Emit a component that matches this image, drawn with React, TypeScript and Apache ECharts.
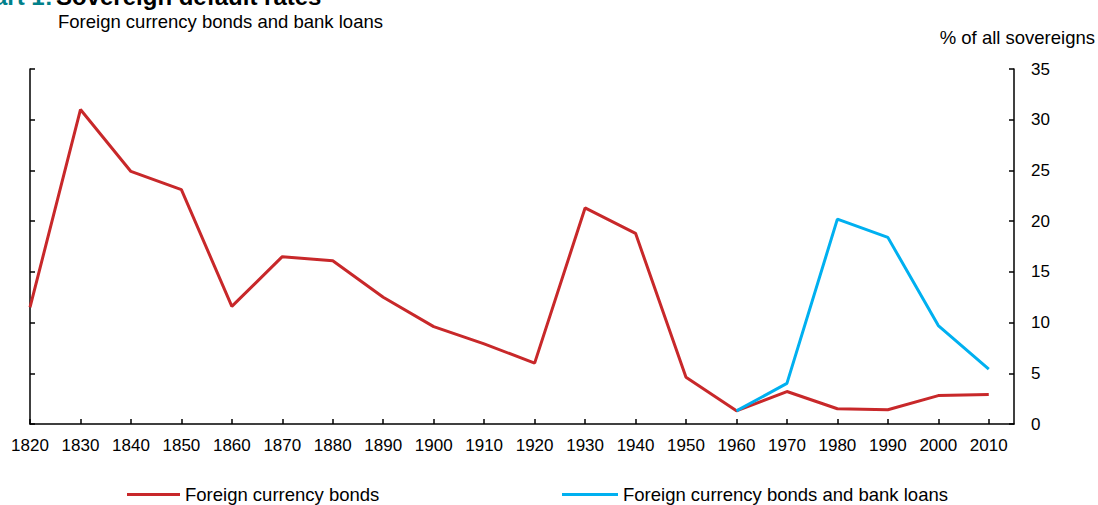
import React, { useEffect, useRef } from "react";
import * as echarts from "echarts";

const years = [1820, 1830, 1840, 1850, 1860, 1870, 1880, 1890, 1900, 1910, 1920, 1930, 1940, 1950, 1960, 1970, 1980, 1990, 2000, 2010];
const bondsValues = [11.5, 31.0, 24.9, 23.1, 11.6, 16.5, 16.1, 12.5, 9.6, 7.9, 6.0, 21.3, 18.8, 4.6, 1.3, 3.2, 1.5, 1.4, 2.8, 2.9];
const loanYears = [1960, 1970, 1980, 1990, 2000, 2010];
const loanValues = [1.3, 4.0, 20.2, 18.4, 9.7, 5.4];
const yTicks = [0, 5, 10, 15, 20, 25, 30, 35];

const RED = "#c8282a";
const BLUE = "#00b0f0";
const FONT = "Liberation Sans, Arial, sans-serif";

export default function App() {
  const ref = useRef<HTMLDivElement>(null);
  useEffect(() => {
    if (!ref.current) return;
    const chart = echarts.init(ref.current, null, { renderer: "svg" });
    const yMin = yTicks[0];
    const yMax = yTicks[yTicks.length - 1];
    const yInt = yTicks[1] - yTicks[0];
    chart.setOption({
      animation: false,
      textStyle: { fontFamily: FONT },
      grid: { left: 30, right: 84, top: 69, bottom: 81 },
      graphic: [
        {
          type: "text",
          left: -38,
          top: -16,
          style: {
            text: "{a|Chart 1:} {b|Sovereign default rates}",
            rich: {
              a: { fontSize: 24, fontWeight: "bold", fill: "#00808a", fontFamily: FONT },
              b: { fontSize: 24, fontWeight: "bold", fill: "#000", fontFamily: FONT },
            },
          },
        },
        {
          type: "text",
          left: 58,
          top: 12,
          style: { text: "Foreign currency bonds and bank loans", fontSize: 18.5, fill: "#000", fontFamily: FONT },
        },
        {
          type: "text",
          right: 3,
          top: 28,
          style: { text: "% of all sovereigns", fontSize: 18.5, fill: "#000", fontFamily: FONT },
        },
      ],
      legend: [
        {
          left: 127,
          top: 485,
          padding: 0,
          data: ["Foreign currency bonds"],
          icon: "rect",
          itemWidth: 53,
          itemHeight: 3,
          textStyle: { fontSize: 18.5, color: "#000", fontFamily: FONT },
        },
        {
          left: 562,
          top: 485,
          padding: 0,
          data: ["Foreign currency bonds and bank loans"],
          icon: "rect",
          itemWidth: 56,
          itemHeight: 3,
          textStyle: { fontSize: 18.5, color: "#000", fontFamily: FONT },
        },
      ],
      xAxis: {
        type: "value",
        min: years[0],
        max: 2015,
        interval: 10,
        splitLine: { show: false },
        axisLine: { show: true, lineStyle: { color: "#000", width: 1.5 } },
        axisTick: { show: true, inside: true, length: 5, lineStyle: { color: "#000", width: 1.5 } },
        axisLabel: {
          margin: 13,
          fontSize: 17,
          color: "#000",
          fontFamily: FONT,
          showMaxLabel: false,
          formatter: (v: number) => (v % 10 === 0 && v <= years[years.length - 1] ? String(v) : ""),
        },
      },
      yAxis: [
        {
          type: "value",
          position: "right",
          min: yMin,
          max: yMax,
          interval: yInt,
          splitLine: { show: false },
          axisLine: { show: true, lineStyle: { color: "#000", width: 1.5 } },
          axisTick: { show: true, inside: true, length: 5, lineStyle: { color: "#000", width: 1.5 } },
          axisLabel: { margin: 17, fontSize: 17, color: "#000", fontFamily: FONT },
        },
        {
          type: "value",
          position: "left",
          min: yMin,
          max: yMax,
          interval: yInt,
          splitLine: { show: false },
          axisLine: { show: true, lineStyle: { color: "#000", width: 1.5 } },
          axisTick: { show: true, inside: true, length: 5, lineStyle: { color: "#000", width: 1.5 } },
          axisLabel: { show: false },
        },
      ],
      series: [
        {
          name: "Foreign currency bonds",
          type: "line",
          yAxisIndex: 0,
          data: years.map((y, i) => [y, bondsValues[i]]),
          showSymbol: false,
          symbol: "none",
          lineStyle: { color: RED, width: 3 },
          itemStyle: { color: RED },
        },
        {
          name: "Foreign currency bonds and bank loans",
          type: "line",
          yAxisIndex: 0,
          data: loanYears.map((y, i) => [y, loanValues[i]]),
          showSymbol: false,
          symbol: "none",
          lineStyle: { color: BLUE, width: 3 },
          itemStyle: { color: BLUE },
          z: 3,
        },
      ],
    });
    return () => chart.dispose();
  }, []);
  return (
    <div
      ref={ref}
      style={{ position: "fixed", left: 0, top: 0, width: 1098, height: 505, background: "#fff" }}
    />
  );
}
